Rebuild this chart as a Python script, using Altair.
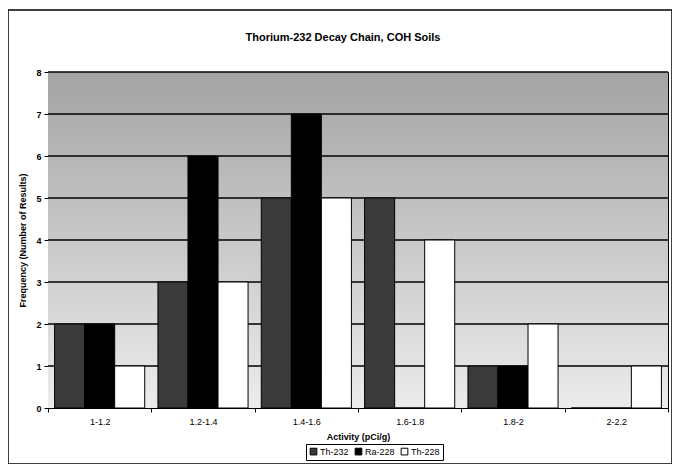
import altair as alt
import pandas as pd

chart_title = "Thorium-232 Decay Chain, COH Soils"
categories = ["1-1.2", "1.2-1.4", "1.4-1.6", "1.6-1.8", "1.8-2", "2-2.2"]
series_names = ["Th-232", "Ra-228", "Th-228"]
th232 = [2, 3, 5, 5, 1, 0]
ra228 = [2, 6, 7, 0, 1, 0]
th228 = [1, 3, 5, 4, 2, 1]
y_ticks = [0, 1, 2, 3, 4, 5, 6, 7, 8]
series_colors = ["#3a3a3a", "#000000", "#ffffff"]

rows = []
for i, c in enumerate(categories):
    for s, vals in zip(series_names, [th232, ra228, th228]):
        rows.append({"Activity": c, "Series": s, "Count": vals[i]})
df = pd.DataFrame(rows)
grid_df = pd.DataFrame({"Count": y_ticks[1:]})
one = pd.DataFrame({"a": [0]})
title_df = pd.DataFrame({"t": [chart_title]})

FONT = "Liberation Sans"
W, H = 620, 336

x_scale = alt.Scale(domain=categories, paddingInner=0, paddingOuter=0)
y_scale = alt.Scale(domain=[0, 8], nice=False)
y_axis = alt.Axis(values=y_ticks, grid=False, tickSize=4, tickColor="black",
                  domainColor="black", labelFont=FONT, labelFontSize=9,
                  labelFontWeight="bold", labelColor="black", labelPadding=3,
                  title="Frequency (Number of Results)", titleFont=FONT,
                  titleFontSize=9, titleFontWeight="bold", titleColor="black",
                  titlePadding=8)

background = alt.Chart(one).mark_rect(
    color=alt.Gradient(
        gradient="linear",
        stops=[alt.GradientStop(color="#a4a4a4", offset=0),
               alt.GradientStop(color="#c8c8c8", offset=0.5),
               alt.GradientStop(color="#ececec", offset=1)],
        x1=0, x2=0, y1=0, y2=1,
    )
).encode(x=alt.value(0), x2=alt.value("width"), y=alt.value(0), y2=alt.value("height"))

grid = alt.Chart(grid_df).mark_rule(color="black", strokeWidth=1.3).encode(
    y=alt.Y("Count:Q", scale=y_scale, axis=y_axis)
)

bars = alt.Chart(df).mark_bar(stroke="black", strokeWidth=1).encode(
    x=alt.X("Activity:N", scale=x_scale, sort=categories,
            axis=alt.Axis(labelAngle=0, tickBand="extent", tickSize=4,
                          tickColor="black", domainColor="black",
                          labelFont=FONT, labelFontSize=9, labelColor="black",
                          labelPadding=5, title="Activity (pCi/g)",
                          titleFont=FONT, titleFontSize=9, titleFontWeight="bold",
                          titleColor="black", titlePadding=6)),
    xOffset=alt.XOffset("Series:N", sort=series_names,
                        scale=alt.Scale(domain=series_names, paddingInner=0, paddingOuter=0.22)),
    y=alt.Y("Count:Q", scale=y_scale, axis=y_axis),
    color=alt.Color("Series:N", scale=alt.Scale(domain=series_names, range=series_colors),
                    legend=alt.Legend(orient="none", legendX=258, legendY=372,
                                      direction="horizontal", title=None,
                                      strokeColor="black", fillColor="white", padding=3,
                                      symbolType="square", symbolSize=45,
                                      symbolStrokeColor="black", symbolStrokeWidth=1,
                                      labelFont=FONT, labelFontSize=9, labelColor="black",
                                      labelOffset=2, columnPadding=4)),
)

frame = alt.Chart(one).mark_rect(filled=False, stroke="black", strokeWidth=1.5).encode(
    x=alt.value(-40), x2=alt.value(624), y=alt.value(-62), y2=alt.value(392)
)

title = alt.Chart(title_df).mark_text(
    font=FONT, fontSize=11, fontWeight="bold", color="black", align="center", baseline="middle"
).encode(text="t:N", x=alt.value(295), y=alt.value(-34))

chart = alt.layer(background, grid, bars, frame, title).properties(
    width=W, height=H,
    autosize=alt.AutoSizeParams(type="none"),
    padding={"left": 40, "top": 64, "right": 4, "bottom": 56},
).configure(background="white").configure_view(stroke="black", strokeWidth=1)

chart.save("out.html", embed_options={"renderer": "svg", "actions": False})
